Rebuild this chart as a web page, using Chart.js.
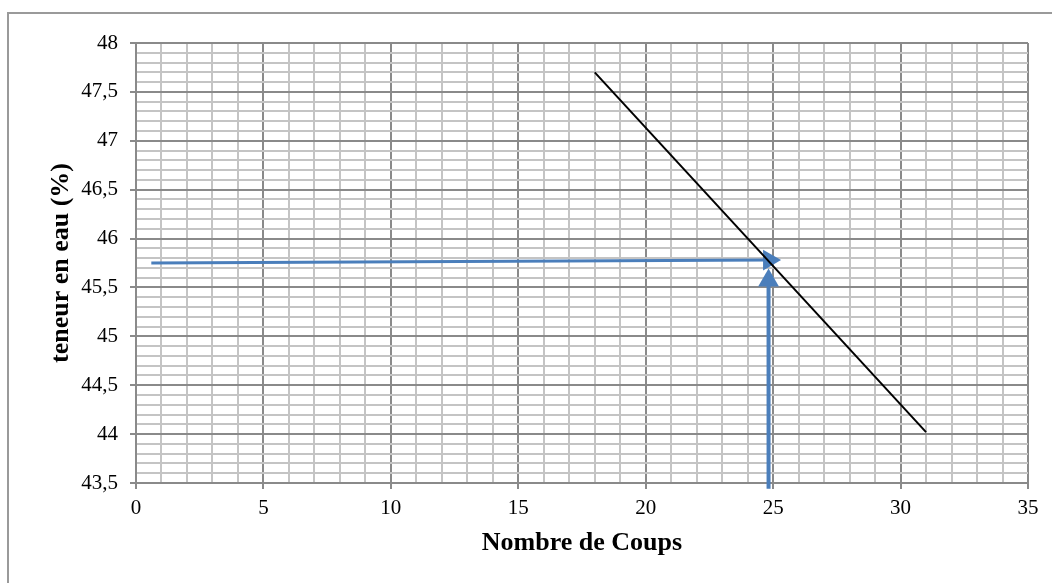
<!DOCTYPE html>
<html lang="fr">
<head>
  <meta charset="UTF-8">
  <title>Teneur en eau / Nombre de coups</title>
  <script src="https://cdn.jsdelivr.net/npm/chart.js"></script>
  <style>
    html, body { margin: 0; padding: 0; background: #fff; overflow: hidden; }
    #wrap { position: relative; width: 1052px; height: 583px; }
    #frame { position: absolute; left: 7px; top: 12px; width: 1100px; height: 640px; border: 2px solid #9a9a9a; }
    #chart { position: absolute; left: 0; top: 0; }
  </style>
</head>
<body>
  <div id="wrap">
    <div id="frame"></div>
    <canvas id="chart" width="1052" height="583"></canvas>
  </div>

  <script>
    // droite teneur en eau / nombre de coups
    const lineX = [18, 31];
    const lineY = [47.7, 44.02];

    // fleche horizontale (lecture de la teneur en eau)
    const arrowHX = [0.6, 24.84];
    const arrowHY = [45.75, 45.78];

    // fleche verticale (25 coups)
    const arrowVX = [24.82, 24.82];
    const arrowVY = [43.44, 45.57];

    // axes
    const xMin = 0, xMax = 35, xStep = 1, xMajor = 5;
    const yMin = 43.5, yMax = 48, yStep = 0.1, yMajor = 0.5;

    const minorGrid = '#c4c4c4';
    const majorGrid = '#8a8a8a';
    const blue = '#4a7ebb';

    const toPoints = (xs, ys) => xs.map((x, i) => ({ x: x, y: ys[i] }));
    const isMajor = (v, m) => Math.abs(v / m - Math.round(v / m)) < 1e-6;

    Chart.defaults.font.family = '"Liberation Serif", "Times New Roman", serif';
    Chart.defaults.color = '#000';

    const ctx = document.getElementById('chart').getContext('2d');

    new Chart(ctx, {
      type: 'scatter',
      data: {
        datasets: [
          {
            data: toPoints(lineX, lineY),
            showLine: true,
            borderColor: '#000',
            borderWidth: 2,
            pointRadius: 0,
            order: 0
          },
          {
            data: toPoints(arrowHX, arrowHY),
            showLine: true,
            borderColor: blue,
            backgroundColor: blue,
            borderWidth: 3,
            pointStyle: 'triangle',
            pointRadius: [0, 12],
            pointRotation: 90,
            pointBorderWidth: 0,
            order: 1
          },
          {
            data: toPoints(arrowVX, arrowVY),
            showLine: true,
            borderColor: blue,
            backgroundColor: blue,
            borderWidth: 4,
            pointStyle: 'triangle',
            pointRadius: [0, 12],
            pointRotation: 0,
            pointBorderWidth: 0,
            clip: false,
            order: 2
          }
        ]
      },
      options: {
        responsive: false,
        animation: false,
        devicePixelRatio: 1,
        events: [],
        layout: { padding: { left: 0, top: 43, right: 24, bottom: 0 } },
        plugins: {
          legend: { display: false },
          tooltip: { enabled: false }
        },
        scales: {
          x: {
            type: 'linear',
            min: xMin,
            max: xMax,
            afterFit: (scale) => { scale.height = 100; },
            ticks: {
              stepSize: xStep,
              autoSkip: false,
              maxRotation: 0,
              padding: 7,
              font: { size: 21 },
              callback: (v) => isMajor(v, xMajor) ? String(v) : ''
            },
            grid: {
              tickLength: 6,
              color: (c) => isMajor(c.tick.value, xMajor) ? majorGrid : minorGrid,
              tickColor: (c) => isMajor(c.tick.value, xMajor) ? majorGrid : 'rgba(0,0,0,0)',
              lineWidth: 2
            },
            border: { color: majorGrid, width: 2 },
            title: {
              display: true,
              text: 'Nombre de Coups',
              font: { size: 26, weight: 'bold' },
              padding: { top: 0, bottom: 24 }
            }
          },
          y: {
            type: 'linear',
            min: yMin,
            max: yMax,
            afterFit: (scale) => { scale.width = 136; },
            ticks: {
              stepSize: yStep,
              autoSkip: false,
              padding: 12,
              font: { size: 21 },
              callback: (v) => isMajor(v, yMajor) ? String(v).replace('.', ',') : ''
            },
            grid: {
              tickLength: 6,
              color: (c) => isMajor(c.tick.value, yMajor) ? majorGrid : minorGrid,
              tickColor: (c) => isMajor(c.tick.value, yMajor) ? majorGrid : 'rgba(0,0,0,0)',
              lineWidth: 2
            },
            border: { color: majorGrid, width: 2 },
            title: {
              display: true,
              text: 'teneur en eau (%)',
              font: { size: 26, weight: 'bold' },
              padding: { top: 46, bottom: 0 }
            }
          }
        }
      }
    });
  </script>
</body>
</html>
